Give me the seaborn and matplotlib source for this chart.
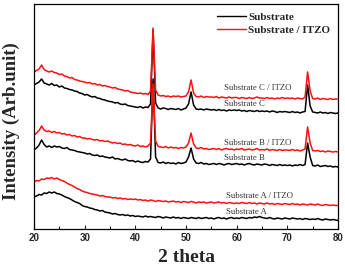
import numpy as np
import pandas as pd
import seaborn as sns
import matplotlib.pyplot as plt
from matplotlib.ticker import MultipleLocator

# 2 theta sampling grid (degrees)
theta = np.arange(20.0, 80.5, 0.5)

# intensities (arb. units, offset stacked)
sub_a = [32, 33, 34.5, 34, 36, 35.5, 37, 36, 37, 35.5,
         35, 34, 32.5, 31.5, 30.5, 29, 27.5, 26.5, 25.5, 23.5,
         22.5, 22, 21, 20.5, 19.5, 19, 18, 18.5, 17, 16.5,
         16, 15, 15.5, 14.5, 14, 14.5, 13.5, 14, 13, 13.5,
         12.5, 13, 12.5, 12, 13, 12, 12.5, 12, 11.5, 12.5,
         12, 11, 12, 11.5, 11, 12, 11, 11.5, 10.5, 11.5,
         11, 10.5, 11.5, 11, 10.5, 11.5, 10.5, 11, 11.5, 10.5,
         11, 10, 11, 11.5, 10.5, 11, 10, 11, 11.5, 10.5,
         11, 10.5, 11.5, 11, 10.5, 11.5, 11, 12, 11.5, 12.5,
         11.5, 11, 10.5, 11.5, 10.5, 10, 11, 10.5, 10, 11,
         10.5, 10, 11, 10.5, 10, 10.5, 9.5, 10.5, 10, 9.5,
         10, 9.5, 10.5, 9.5, 9, 10, 9.5, 9, 9.5, 9,
         8.5]
sub_a_itzo = [47, 48.5, 48, 50, 49.5, 51, 50.5, 51.5, 50, 51,
              49.5, 48.5, 47.5, 46, 44.5, 43.5, 42, 40.5, 39.5, 38,
              37, 36.5, 35.5, 35, 34.5, 34, 33, 33.5, 32.5, 32,
              32, 31, 31.5, 30.5, 31, 30, 30.5, 29.5, 30, 29.5,
              30, 29, 29.5, 28.5, 29, 28, 29, 28.5, 27.5, 28.5,
              28, 27.5, 28, 27, 27.5, 28, 27, 27.5, 26.5, 27.5,
              27, 26.5, 27.5, 27, 26, 27, 26.5, 27, 26, 26.5,
              27, 26, 26.5, 27, 26, 26.5, 25.5, 26.5, 26, 25.5,
              26, 25.5, 26.5, 26, 25.5, 26.5, 25.5, 26, 25, 26,
              25.5, 25, 26, 25, 25.5, 24.5, 25.5, 25, 24.5, 25.5,
              25, 24.5, 25.5, 24.5, 25, 24, 25, 24.5, 24, 25,
              24.5, 24, 25, 24, 23.5, 24.5, 24, 23.5, 24, 23.5,
              23.5]
sub_b = [79, 81, 84, 89, 84.5, 82, 83, 81.5, 83, 82,
         82.5, 81, 80.5, 81.5, 79.5, 79, 78.5, 77.5, 77, 76.5,
         76, 75, 75.5, 74, 73.5, 74, 72.5, 73, 72, 71.5,
         71, 72, 70, 70.5, 69.5, 69, 70, 68.5, 68, 68.5,
         67, 68, 67, 66.5, 67.5, 67, 70, 150, 72, 66.5,
         66, 67, 65.5, 66.5, 65.5, 66, 65, 66.5, 65.5, 66,
         67, 72, 81, 70, 66, 65.5, 66.5, 65, 65.5, 64.5,
         65, 65.5, 64.5, 65.5, 65, 64, 65, 65.5, 64.5, 65,
         65.5, 64.5, 65, 64, 65, 65.5, 64.5, 64, 65, 64.5,
         64, 65, 64.5, 63.5, 64.5, 64, 63.5, 64.5, 63.5, 64,
         63.5, 64, 63, 64, 63.5, 64.5, 63.5, 64.5, 86, 72,
         63.5, 63, 64, 62.5, 63, 63.5, 62.5, 63, 62, 62.5,
         62]
sub_b_itzo = [94, 96, 98.5, 103, 99, 97.5, 98, 96.5, 97.5, 96,
              96.5, 95, 95.5, 94, 94.5, 93, 93.5, 92, 92.5, 91,
              91, 90, 90.5, 89.5, 89, 89.5, 88, 88.5, 87.5, 88,
              87, 86, 86.5, 85.5, 86, 84.5, 85, 84, 84.5, 83.5,
              83, 84, 82.5, 83, 82, 83, 86, 145, 88, 82.5,
              82, 81.5, 82.5, 81, 82, 81, 81.5, 80.5, 81.5, 81,
              82, 86, 96, 85, 81, 80.5, 81.5, 80, 80.5, 79.5,
              80, 80.5, 79.5, 80.5, 79, 80, 80.5, 79.5, 80, 79,
              80, 79.5, 80.5, 79, 79.5, 80, 79, 79.5, 80.5, 79,
              79.5, 79, 80, 78.5, 79.5, 79, 78.5, 79.5, 78.5, 79,
              79, 78.5, 79.5, 78.5, 79, 78, 79, 80, 102, 86,
              78.5, 78, 78.5, 77.5, 78, 77, 78, 77.5, 77, 77.5,
              77]
sub_c = [144, 145.5, 147, 150, 146, 145, 144, 145.5, 143.5, 144,
         142, 143, 141, 140.5, 139.5, 139, 138, 137.5, 136, 135.5,
         134, 134.5, 133, 132, 132.5, 131, 130.5, 129.5, 129, 128,
         127.5, 127, 126, 126.5, 125, 124.5, 125, 123.5, 123, 122.5,
         122, 121.5, 122.5, 121, 122, 121.5, 125, 199, 126, 121,
         120, 121, 120.5, 119.5, 120.5, 120, 119.5, 120.5, 119, 120,
         121, 125, 137, 124, 120, 119.5, 120, 119, 120, 119.5,
         119, 119.5, 118.5, 119.5, 118.5, 119, 118, 119, 118.5, 119,
         118.5, 119, 118, 118.5, 117.5, 118.5, 118, 117.5, 118.5, 117.5,
         118, 117.5, 118, 117, 118, 117.5, 116.5, 117.5, 117, 117.5,
         117, 116.5, 117.5, 116.5, 117, 116, 117, 117.5, 144, 123,
         117, 116.5, 116, 117, 116, 116.5, 115.5, 116.5, 116, 115.5,
         116]
sub_c_itzo = [157, 158.5, 160, 164, 159.5, 158, 157, 158, 156.5, 156,
              154.5, 155, 153, 152.5, 151, 151.5, 149.5, 149, 148, 147.5,
              147, 146, 146.5, 145, 145.5, 144, 144.5, 143, 143.5, 142.5,
              142, 141, 141.5, 140, 139.5, 139, 138, 138.5, 137, 136.5,
              136, 135.5, 136, 135, 135.5, 134.5, 138, 201, 139, 134,
              133, 133.5, 132.5, 133, 132, 133, 132.5, 133, 132, 132.5,
              133, 137, 149, 136, 132.5, 132, 133, 131.5, 132.5, 132,
              132, 131.5, 132.5, 131, 132, 131.5, 131, 132, 131, 131.5,
              131.5, 130.5, 131.5, 131, 130.5, 131.5, 130.5, 131, 132, 131,
              131, 130.5, 131.5, 130.5, 131, 130, 131, 130.5, 131.5, 130.5,
              131, 130.5, 131, 130, 131, 130.5, 130, 132, 157, 138,
              130.5, 130, 131, 129.5, 130.5, 130, 129.5, 130.5, 129.5, 130,
              130]

curves = {
    ("A", "Substrate"): sub_a,
    ("A", "Substrate / ITZO"): sub_a_itzo,
    ("B", "Substrate"): sub_b,
    ("B", "Substrate / ITZO"): sub_b_itzo,
    ("C", "Substrate"): sub_c,
    ("C", "Substrate / ITZO"): sub_c_itzo,
}

rows = []
for (name, kind), vals in curves.items():
    for t, v in zip(theta, vals):
        rows.append({"theta": t, "intensity": v, "kind": kind, "sample": name + kind})
df = pd.DataFrame(rows)

sns.set_style("white")
fig = plt.figure(figsize=(3.45, 2.7), dpi=100)
ax = fig.add_axes([34 / 345, 41 / 270, 304 / 345, 225 / 270])

sns.lineplot(data=df, x="theta", y="intensity", hue="kind", units="sample",
             estimator=None, sort=False, linewidth=1.1, ax=ax,
             palette={"Substrate": "black", "Substrate / ITZO": "#ff1010"})

# labels next to curves
ann = [(57.5, 141, "Substrate C / ITZO"), (57.5, 125, "Substrate C"),
       (57.5, 86, "Substrate B / ITZO"), (57.5, 71, "Substrate B"),
       (57.9, 33, "Substrate A / ITZO"), (57.9, 17, "Substrate A")]
for x, y, s in ann:
    ax.text(x, y, s, fontsize=6.3, family="Liberation Serif", color="#333333",
            va="center", ha="left")

ax.set_xlim(20, 80)
ax.set_ylim(0, 225)
ax.set_yticks([])
ax.xaxis.set_major_locator(MultipleLocator(10))
ax.xaxis.set_minor_locator(MultipleLocator(5))
ax.tick_params(axis="x", which="major", direction="in", length=3, width=0.8,
               pad=3, labelsize=7, bottom=True)
ax.tick_params(axis="x", which="minor", direction="in", length=2, width=0.8, bottom=True)
for lbl in ax.get_xticklabels():
    lbl.set_fontweight("bold")
    lbl.set_family("Liberation Sans")
for sp in ax.spines.values():
    sp.set_color("black")
    sp.set_linewidth(0.9)

ax.set_xlabel("2 theta", fontsize=14, fontweight="bold", family="Liberation Serif", labelpad=4)
ax.set_ylabel("Intensity (Arb.unit)", fontsize=13.5, fontweight="bold",
              family="Liberation Serif")
ax.yaxis.set_label_coords(-14 / 304, 0.48)

leg = ax.legend(loc="upper right", frameon=False, handlelength=2.6, handletextpad=0.2,
                labelspacing=0.35, borderaxespad=0.3,
                prop={"family": "Liberation Serif", "weight": "bold", "size": 8})
for h in leg.get_lines():
    h.set_linewidth(1.0)

fig.savefig("out.png", dpi=100)
